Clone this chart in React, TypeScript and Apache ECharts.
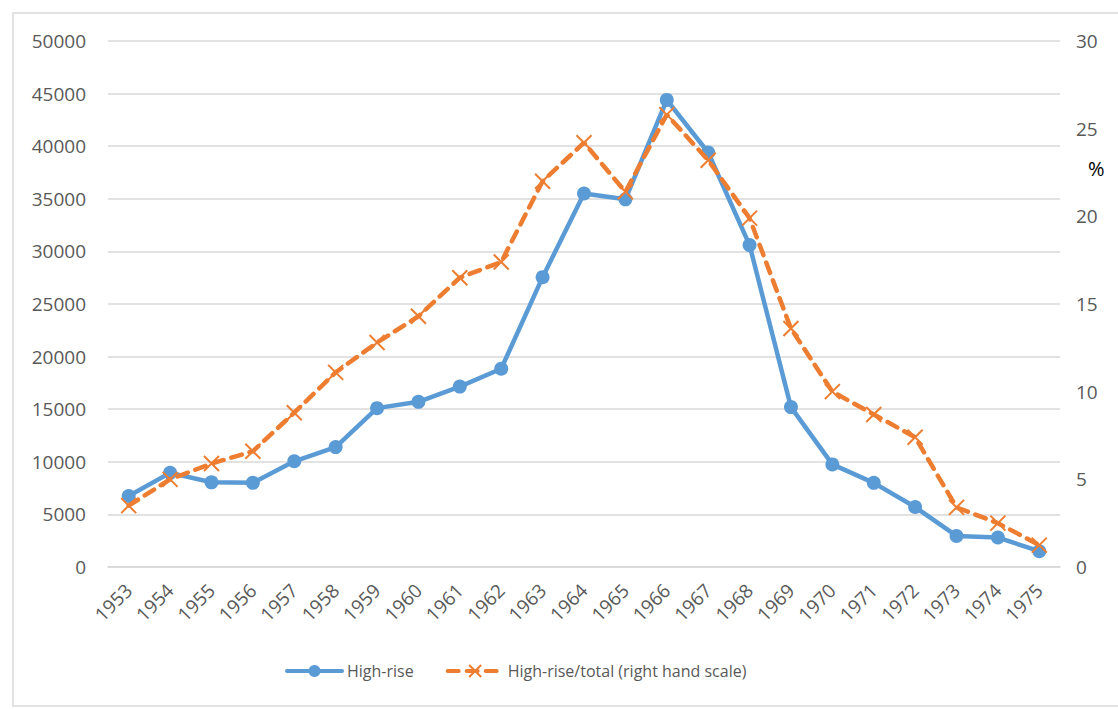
import React, { useEffect, useRef } from "react";
import * as echarts from "echarts";

const years = ["1953","1954","1955","1956","1957","1958","1959","1960","1961","1962","1963","1964","1965","1966","1967","1968","1969","1970","1971","1972","1973","1974","1975"];
const highRise = [6750, 8950, 8050, 8000, 10050, 11400, 15100, 15700, 17150, 18850, 27550, 35500, 34950, 44400, 39400, 30600, 15200, 9750, 8000, 5700, 2950, 2800, 1500];
const highRiseShare = [3.5, 5.0, 5.9, 6.6, 8.8, 11.1, 12.8, 14.3, 16.5, 17.4, 22.0, 24.2, 21.4, 25.8, 23.2, 19.9, 13.6, 10.0, 8.7, 7.4, 3.4, 2.5, 1.25];
const leftMax = 50000;
const leftStep = 5000;
const rightMax = 30;
const rightStep = 5;

const FONT = "'Open Sans', 'Noto Sans', sans-serif";
const GRAY = "#595959";
const GRID = "#D9D9D9";
const BLUE = "#5B9BD5";
const ORANGE = "#ED7D31";

export default function App() {
  const ref = useRef<HTMLDivElement>(null);
  useEffect(() => {
    if (!ref.current) return;
    const chart = echarts.init(ref.current, undefined, { renderer: "svg" });
    chart.setOption({
      animation: false,
      backgroundColor: "#ffffff",
      textStyle: { fontFamily: FONT },
      grid: { left: 108, right: 58, top: 41, bottom: 142, containLabel: false },
      graphic: [
        {
          type: "rect",
          shape: { x: 13, y: 13, width: 1200, height: 693 },
          style: { fill: "none", stroke: GRID, lineWidth: 1.5 },
          silent: true,
        },
        {
          type: "text",
          left: 1088,
          top: 158,
          style: { text: "%", fill: "#000000", fontSize: 20, fontFamily: FONT },
        },
      ],
      legend: {
        left: 280,
        top: 658,
        itemWidth: 55,
        itemHeight: 15,
        itemGap: 32,
        textStyle: { color: GRAY, fontSize: 16, fontFamily: FONT },
        lineStyle: { width: 4, cap: "round" },
        data: ["High-rise", "High-rise/total (right hand scale)"],
      },
      xAxis: {
        type: "category",
        data: years,
        boundaryGap: true,
        axisLine: { show: true, lineStyle: { color: GRID, width: 1.5 } },
        axisTick: { show: false },
        axisLabel: { rotate: 45, color: GRAY, fontSize: 19, margin: 20, interval: 0, fontFamily: FONT },
      },
      yAxis: [
        {
          type: "value",
          min: 0,
          max: leftMax,
          interval: leftStep,
          axisLine: { show: false },
          axisTick: { show: false },
          splitLine: { show: true, lineStyle: { color: GRID, width: 1.5 } },
          axisLabel: { color: GRAY, fontSize: 19, margin: 22, fontFamily: FONT, formatter: (v: number) => String(v) },
        },
        {
          type: "value",
          min: 0,
          max: rightMax,
          interval: rightStep,
          position: "right",
          axisLine: { show: false },
          axisTick: { show: false },
          splitLine: { show: false },
          axisLabel: { color: GRAY, fontSize: 19, margin: 16, fontFamily: FONT },
        },
      ],
      series: [
        {
          name: "High-rise",
          type: "line",
          data: highRise,
          yAxisIndex: 0,
          symbol: "circle",
          symbolSize: 14,
          showSymbol: true,
          lineStyle: { color: BLUE, width: 4.5 },
          itemStyle: { color: BLUE },
          z: 2,
        },
        {
          name: "High-rise/total (right hand scale)",
          type: "line",
          data: highRiseShare,
          yAxisIndex: 1,
          symbol: "path://M0 0L10 10M10 0L0 10",
          symbolSize: 15,
          lineStyle: { color: ORANGE, width: 4.5, type: [11, 8], cap: "round" },
          itemStyle: { color: ORANGE, borderColor: ORANGE, borderWidth: 2 },
          z: 3,
        },
      ],
    });
    return () => chart.dispose();
  }, []);
  return (
    <div
      ref={ref}
      style={{ position: "absolute", left: 0, top: 0, width: 1118, height: 709 }}
    />
  );
}
